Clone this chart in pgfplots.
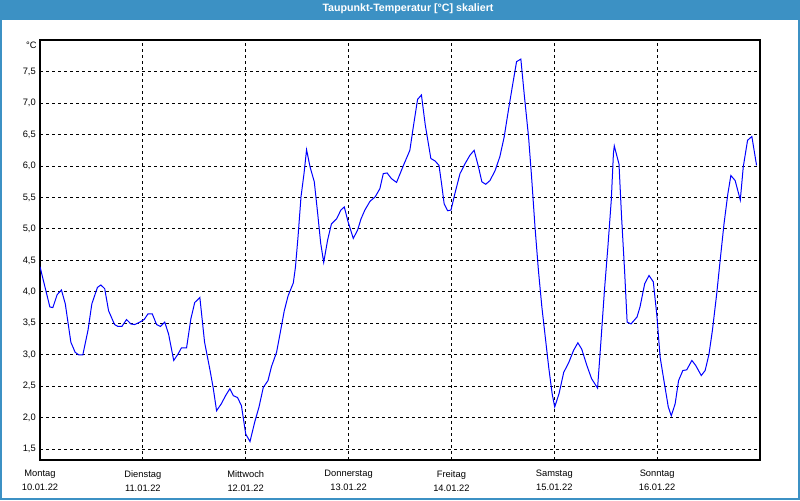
\documentclass[border=0pt]{standalone}
\usepackage{fontspec}
\setmainfont{Liberation Sans}
\usepackage{pgfplots}
\pgfplotsset{compat=1.18}
\definecolor{tbblue}{RGB}{60,145,196}
\definecolor{lineblue}{RGB}{0,0,255}
\begin{document}
\begin{tikzpicture}
\useasboundingbox (0pt,0pt) rectangle (600pt,375pt);
\fill[white] (0pt,0pt) rectangle (600pt,375pt);
\fill[tbblue] (0pt,360pt) rectangle (600pt,375pt);
\fill[tbblue] (0pt,0pt) rectangle (1.5pt,375pt);
\fill[tbblue] (598.5pt,0pt) rectangle (600pt,375pt);
\fill[tbblue] (0pt,0pt) rectangle (600pt,1.5pt);
\node[text=white, font=\fontsize{8}{9}\selectfont\bfseries, inner sep=0pt] at (306pt,368.2pt) {Taupunkt-Temperatur [°C] skaliert};
\begin{axis}[
  at={(30pt,30pt)}, anchor=south west,
  width=540pt, height=315pt, scale only axis,
  xmin=0, xmax=168, ymin=1.327, ymax=8.004,
  axis line style={black, line width=0.9pt},
  xtick={0,24,48,72,96,120,144},
  xticklabels={Montag\\10.01.22, Dienstag\\11.01.22, Mittwoch\\12.01.22, Donnerstag\\13.01.22, Freitag\\14.01.22, Samstag\\15.01.22, Sonntag\\16.01.22},
  ytick={1.5,2,2.5,3,3.5,4,4.5,5,5.5,6,6.5,7,7.5},
  major tick length=0pt,
  grid=major,
  major grid style={black, line width=0.7pt, dash pattern=on 2.25pt off 2.25pt},
  tick label style={font=\fontsize{7}{10.5}\selectfont, inner sep=0pt, text=black},
  xticklabel style={align=center, anchor=north, yshift=-7.5pt},
  yticklabel style={anchor=east, xshift=-3pt},
  /pgf/number format/.cd, fixed, fixed zerofill, precision=1, use comma, assume math mode=true,
]
\addplot[lineblue, line width=0.75pt, mark=none] coordinates {
(0,4.40) (2.3,3.76) (3.0,3.75) (4.0,3.955) (5.0,4.03) (5.9,3.81) (7.2,3.20) (8.2,3.04) (9,3.0) (10.0,3.0)
(11.2,3.39) (12.1,3.81) (13.4,4.07) (14.2,4.11) (15.1,4.05) (16.0,3.70) (17.4,3.48) (18.2,3.45) (19.1,3.45)
(20.2,3.56) (21.2,3.49) (22.1,3.48) (23.3,3.52) (24.3,3.56) (25.2,3.65) (26.2,3.65) (27.2,3.48) (28.1,3.45)
(29.1,3.52) (30.0,3.33) (31.2,2.91) (32.2,3.01) (33.0,3.11) (34.2,3.11) (35.2,3.57) (36.1,3.83) (37.3,3.91)
(38.4,3.20) (39.6,2.78) (40.4,2.48) (41.2,2.11) (42.3,2.22) (43.3,2.35) (44.3,2.46) (45.1,2.35) (46.1,2.32)
(47.0,2.19) (48.0,1.74) (49.0,1.62) (50.1,1.93) (51.1,2.17) (52.1,2.48) (53.2,2.59) (54.0,2.81) (55.2,3.04)
(56.0,3.33) (57.0,3.70) (57.9,3.94) (59.1,4.14) (59.6,4.39) (60.2,4.87) (60.9,5.51) (61.6,5.88) (62.2,6.26)
(63.0,5.99) (64.0,5.75) (64.8,5.24) (65.5,4.77) (66.2,4.47) (67.1,4.82) (68.0,5.08) (69.2,5.16) (70.2,5.30)
(71.0,5.35) (71.9,5.11) (73.1,4.85) (74.1,4.98) (74.9,5.16) (75.8,5.30) (77.0,5.44) (78.2,5.51) (79.3,5.64)
(80.1,5.88) (81.0,5.89) (82.0,5.80) (83.2,5.74) (84.8,6.01) (86.3,6.25) (87.1,6.62) (88.1,7.06) (89.0,7.13)
(89.9,6.65) (91.2,6.12) (92.2,6.08) (93.1,6.01) (93.7,5.72) (94.3,5.40) (95.1,5.29) (95.9,5.30) (96.8,5.56)
(98.0,5.88) (99.2,6.04) (100.3,6.17) (101.3,6.25) (102.3,5.99) (103.1,5.75) (104.0,5.71) (105.0,5.77)
(106.2,5.93) (107.3,6.15) (108.3,6.46) (109.3,6.89) (110.2,7.26) (111.2,7.66) (112.2,7.70) (113.0,7.13)
(114.0,6.46) (114.7,5.83) (115.5,5.03) (116.3,4.34) (117.1,3.76) (117.9,3.28) (118.7,2.80) (119.5,2.38)
(120.1,2.17) (121.1,2.38) (122.2,2.72) (123.4,2.88) (124.5,3.07) (125.5,3.19) (126.4,3.09) (127.6,2.83)
(128.7,2.62) (130.1,2.47) (130.9,3.23) (131.7,4.02) (132.5,4.71) (133.3,5.46) (133.8,6.20) (134.0,6.32)
(135.1,6.03) (135.7,5.19) (136.4,4.34) (137.0,3.52) (137.9,3.49) (139.3,3.60) (140.0,3.76) (141.1,4.13)
(142.1,4.26) (143.1,4.16) (143.9,3.65) (144.7,2.96) (145.7,2.54) (146.6,2.17) (147.3,2.03) (148.2,2.22)
(149.0,2.59) (150.0,2.75) (150.9,2.76) (152.1,2.91) (153.0,2.83) (154.3,2.67) (155.2,2.75) (156.1,3.01)
(156.9,3.39) (157.9,3.97) (158.7,4.50) (159.6,5.08) (160.5,5.56) (161.2,5.85) (162.2,5.77) (163.4,5.46)
(164.1,5.99) (165.1,6.41) (166.1,6.47) (167.2,6.01)
};
\end{axis}
\node[font=\fontsize{7}{8}\selectfont, inner sep=0pt] at (23.6pt,341.2pt) {°C};
\end{tikzpicture}
\end{document}
